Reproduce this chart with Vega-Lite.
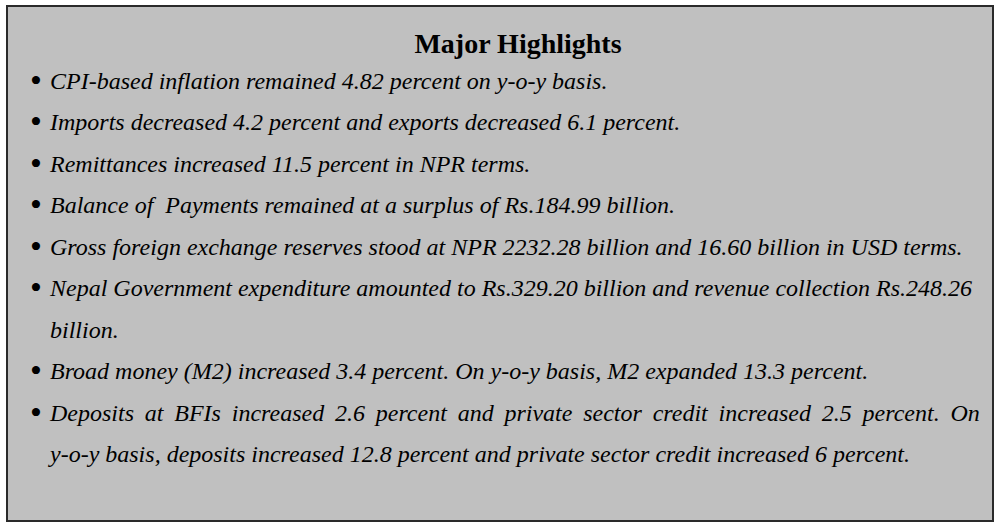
{
  "$schema": "https://vega.github.io/schema/vega-lite/v6.json",
  "width": 998,
  "height": 528,
  "autosize": {"type": "fit", "contains": "padding"},
  "padding": {"left": 7, "top": 6, "right": 5, "bottom": 7},
  "background": "#ffffff",
  "config": {"view": {"fill": "#c0c0c0", "stroke": "#2a2a2a", "strokeWidth": 2}},
  "data": {"values": [
    {"line": 0, "kind": "title", "text": "Major Highlights"},
    {"line": 1, "kind": "bullet", "text": "CPI-based inflation remained 4.82 percent on y-o-y basis."},
    {"line": 2, "kind": "bullet", "text": "Imports decreased 4.2 percent and exports decreased 6.1 percent."},
    {"line": 3, "kind": "bullet", "text": "Remittances increased 11.5 percent in NPR terms."},
    {"line": 4, "kind": "bullet", "text": "Balance of\u00a0 Payments remained at a surplus of Rs.184.99 billion."},
    {"line": 5, "kind": "bullet", "text": "Gross foreign exchange reserves stood at NPR 2232.28 billion and 16.60 billion in USD terms."},
    {"line": 6, "kind": "bullet", "text": "Nepal Government expenditure amounted to Rs.329.20 billion and revenue collection Rs.248.26"},
    {"line": 7, "kind": "cont", "text": "billion."},
    {"line": 8, "kind": "bullet", "text": "Broad money (M2) increased 3.4 percent. On y-o-y basis, M2 expanded 13.3 percent."},
    {"line": 9, "kind": "bullet", "text": "Deposits\u2009 at\u2009 BFIs\u2009 increased\u2009 2.6\u2009 percent\u2009 and\u2009 private\u2009 sector\u2009 credit\u2009 increased\u2009 2.5\u2009 percent.\u2009 On"},
    {"line": 10, "kind": "cont", "text": "y-o-y basis, deposits increased 12.8 percent and private sector credit increased 6 percent."}
  ]},
  "encoding": {
    "y": {"field": "line", "type": "quantitative", "scale": {"domain": [-1.003, 11.425], "reverse": true, "nice": false, "zero": false}, "axis": null}
  },
  "layer": [
    {
      "transform": [{"filter": "datum.kind === 'title'"}],
      "mark": {"type": "text", "font": "Liberation Serif", "fontWeight": "bold", "fontSize": 28, "align": "center", "baseline": "alphabetic", "dy": 5, "color": "#000000"},
      "encoding": {"x": {"value": {"expr": "width/2 + 18"}}, "text": {"field": "text"}}
    },
    {
      "transform": [{"filter": "datum.kind === 'bullet'"}, {"calculate": "0", "as": "col"}],
      "mark": {"type": "text", "font": "Liberation Serif", "fontSize": 34, "align": "center", "baseline": "alphabetic", "dy": 3, "color": "#000000"},
      "encoding": {"x": {"field": "col", "type": "quantitative", "scale": {"domain": [-2.071, 68.357], "nice": false, "zero": false}, "axis": null}, "text": {"value": "•"}}
    },
    {
      "transform": [{"filter": "datum.kind !== 'title'"}, {"calculate": "1", "as": "col"}],
      "mark": {"type": "text", "font": "Liberation Serif", "fontStyle": "italic", "fontSize": 24, "align": "left", "baseline": "alphabetic", "color": "#000000"},
      "encoding": {"x": {"field": "col", "type": "quantitative", "scale": {"domain": [-2.071, 68.357], "nice": false, "zero": false}, "axis": null}, "text": {"field": "text"}}
    }
  ]
}
